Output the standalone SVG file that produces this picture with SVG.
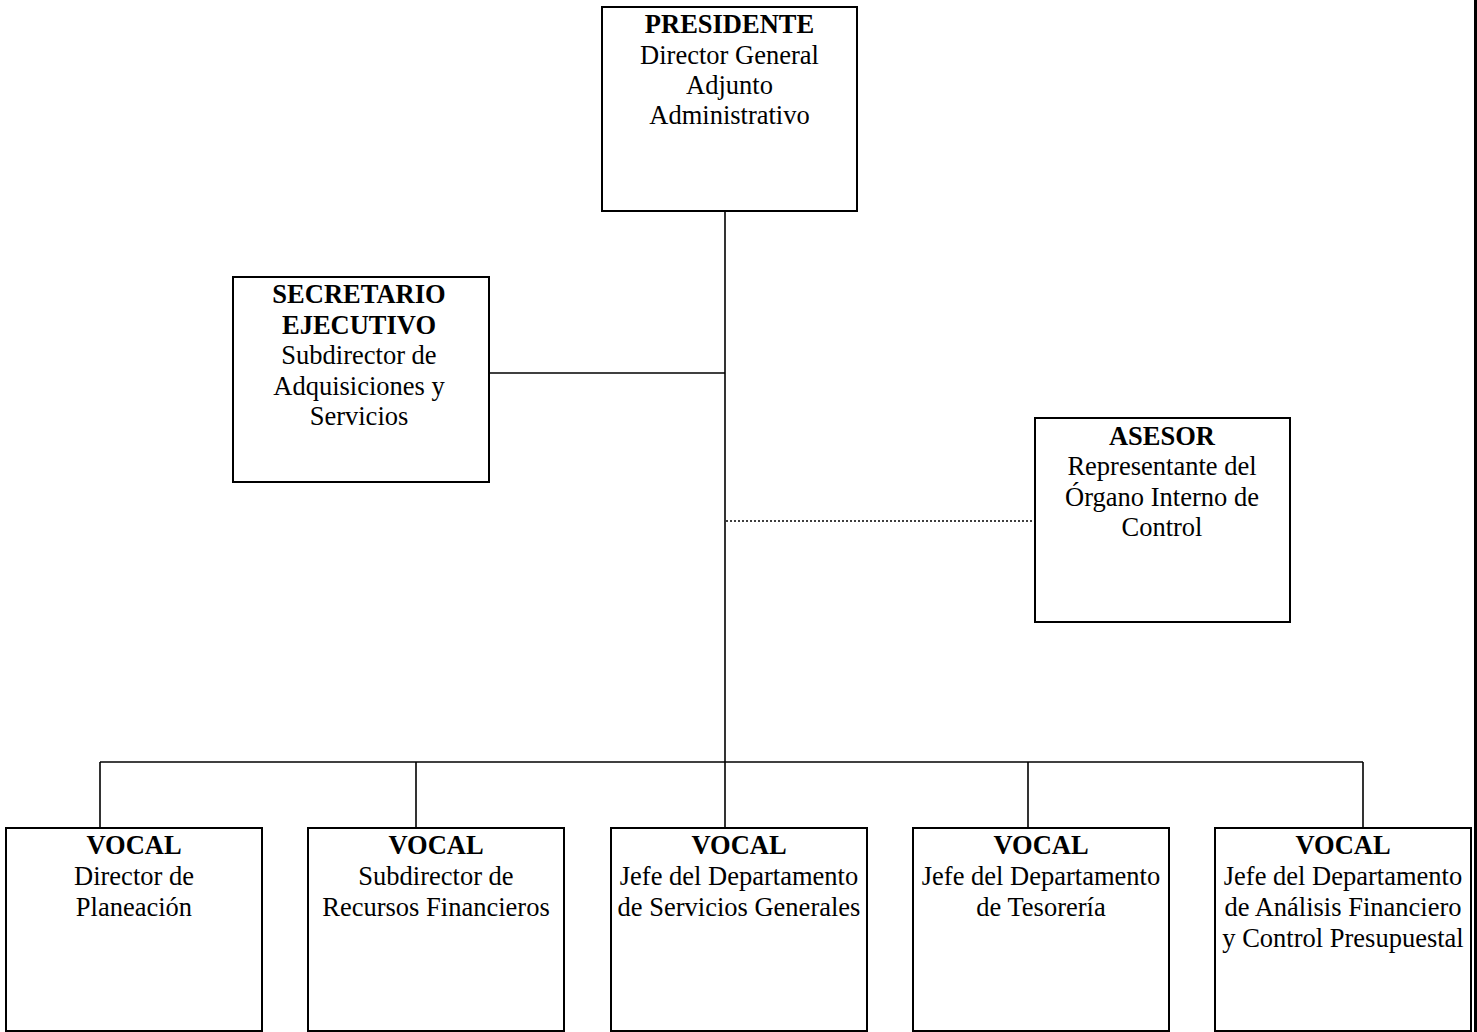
<svg xmlns="http://www.w3.org/2000/svg" width="1477" height="1032" viewBox="0 0 1477 1032">
<style>
.box{fill:#fff;stroke:#000;stroke-width:2}
.ln{stroke:#000;stroke-width:1.6;fill:none}
.dot{stroke:#000;stroke-width:1.3;stroke-dasharray:2 2;fill:none}
text{font-family:"Liberation Serif","Times New Roman",serif;font-size:26.5px;fill:#000;text-anchor:middle}
.b{font-weight:bold}
</style>
<rect width="1477" height="1032" fill="#fff"/>
<g id="connectors">
<line class="ln" x1="725" y1="211" x2="725" y2="828"/>
<line class="ln" x1="489" y1="373" x2="725" y2="373"/>
<line class="dot" x1="726" y1="521" x2="1035" y2="521"/>
<line class="ln" x1="100" y1="762" x2="1363" y2="762"/>
<line class="ln" x1="100" y1="762" x2="100" y2="828"/>
<line class="ln" x1="416" y1="762" x2="416" y2="828"/>
<line class="ln" x1="1028" y1="762" x2="1028" y2="828"/>
<line class="ln" x1="1363" y1="762" x2="1363" y2="828"/>
</g>
<line x1="1475.5" y1="0" x2="1475.5" y2="1032" stroke="#000" stroke-width="3"/>
<g id="presidente">
<rect class="box" x="602" y="7" width="255" height="204"/>
<text x="729.5" y="33" class="b">PRESIDENTE</text>
<text x="729.5" y="64">Director General</text>
<text x="729.5" y="94">Adjunto</text>
<text x="729.5" y="124">Administrativo</text>
</g>
<g id="secretario">
<rect class="box" x="233" y="277" width="256" height="205"/>
<text x="359" y="303" class="b">SECRETARIO</text>
<text x="359" y="334" class="b">EJECUTIVO</text>
<text x="359" y="364">Subdirector de</text>
<text x="359" y="395">Adquisiciones y</text>
<text x="359" y="425">Servicios</text>
</g>
<g id="asesor">
<rect class="box" x="1035" y="418" width="255" height="204"/>
<text x="1162" y="445" class="b">ASESOR</text>
<text x="1162" y="475">Representante del</text>
<text x="1162" y="506">Órgano Interno de</text>
<text x="1162" y="536">Control</text>
</g>
<g id="vocal1">
<rect class="box" x="6" y="828" width="256" height="203"/>
<text x="134" y="854" class="b">VOCAL</text>
<text x="134" y="885">Director de</text>
<text x="134" y="916">Planeación</text>
</g>
<g id="vocal2">
<rect class="box" x="308" y="828" width="256" height="203"/>
<text x="436" y="854" class="b">VOCAL</text>
<text x="436" y="885">Subdirector de</text>
<text x="436" y="916">Recursos Financieros</text>
</g>
<g id="vocal3">
<rect class="box" x="611" y="828" width="256" height="203"/>
<text x="739" y="854" class="b">VOCAL</text>
<text x="739" y="885">Jefe del Departamento</text>
<text x="739" y="916">de Servicios Generales</text>
</g>
<g id="vocal4">
<rect class="box" x="913" y="828" width="256" height="203"/>
<text x="1041" y="854" class="b">VOCAL</text>
<text x="1041" y="885">Jefe del Departamento</text>
<text x="1041" y="916">de Tesorería</text>
</g>
<g id="vocal5">
<rect class="box" x="1215" y="828" width="256" height="203"/>
<text x="1343" y="854" class="b">VOCAL</text>
<text x="1343" y="885">Jefe del Departamento</text>
<text x="1343" y="916">de Análisis Financiero</text>
<text x="1343" y="947">y Control Presupuestal</text>
</g>
</svg>
